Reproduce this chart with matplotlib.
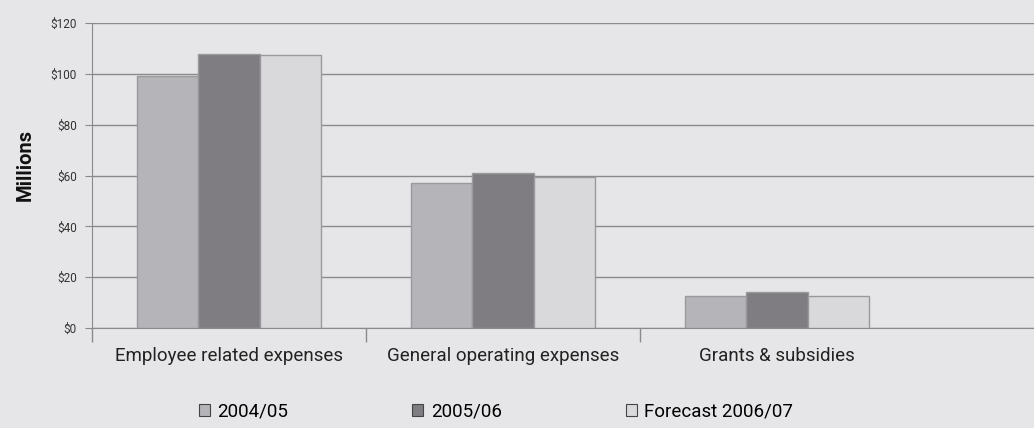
import numpy as np
import matplotlib
matplotlib.use("Agg")
import matplotlib.pyplot as plt
from matplotlib.patches import Patch

categories = ["Employee related expenses", "General operating expenses", "Grants & subsidies"]
series = ["2004/05", "2005/06", "Forecast 2006/07"]
v_0405 = [99, 57, 12.5]
v_0506 = [108, 61, 14]
v_fc0607 = [107.5, 59.5, 12.5]
yticks = [0, 20, 40, 60, 80, 100, 120]

colors = ["#b5b4b8", "#7f7d82", "#d9d9db"]
bg = "#e6e6e8"

plt.rcParams['font.family'] = ['Roboto', 'DejaVu Sans']

fig = plt.figure(figsize=(10.34, 4.28), dpi=100, facecolor=bg)
ax = fig.add_axes([92/1034, 1 - 328/428, 1 - 92/1034, (328 - 23)/428])
ax.set_facecolor(bg)

x = np.arange(len(categories))
w = 0.225
for i, vals in enumerate([v_0405, v_0506, v_fc0607]):
    ax.bar(x + (i - 1) * w, vals, width=w, color=colors[i], edgecolor="#9a9a9c",
           linewidth=1.0, zorder=3, label=series[i])

ax.set_ylim(0, 120)
ax.set_xlim(-0.5, (1034 - 92) / 274 - 0.5)
ax.set_yticks(yticks)
ax.set_yticklabels(["$%d" % t for t in yticks], fontsize=8.5, color="#333333")
ax.yaxis.grid(True, color="#8a8a8c", linewidth=1.0, zorder=0)
ax.tick_params(axis="y", length=5, color="#8a8a8c", pad=6)

ax.set_xticks(x)
ax.set_xticklabels(categories, fontsize=13.5, color="#222222")
ax.set_xticks(np.arange(len(categories)) - 0.5, minor=True)
ax.tick_params(axis="x", which="major", length=0, pad=14)
ax.tick_params(axis="x", which="minor", length=10, color="#8a8a8c", width=1.0)

for s in ["top", "right"]:
    ax.spines[s].set_visible(False)
for s in ["left", "bottom"]:
    ax.spines[s].set_color("#8a8a8c")

fig.text(25/1034, 1 - 165/428, "Millions", rotation=90, fontsize=14.5, fontweight="bold",
         ha="center", va="center", color="#111111")

handles = [Patch(facecolor=c, edgecolor="#444444", linewidth=0.8) for c in colors]
fig.legend(handles, series, ncol=3, loc="center", bbox_to_anchor=(496/1034, 1 - 412/428),
           frameon=False, fontsize=13.5, handlelength=0.6, handleheight=0.6,
           handletextpad=0.4, columnspacing=6.6, borderpad=0)

fig.savefig("out.png", dpi=100, facecolor=bg)
